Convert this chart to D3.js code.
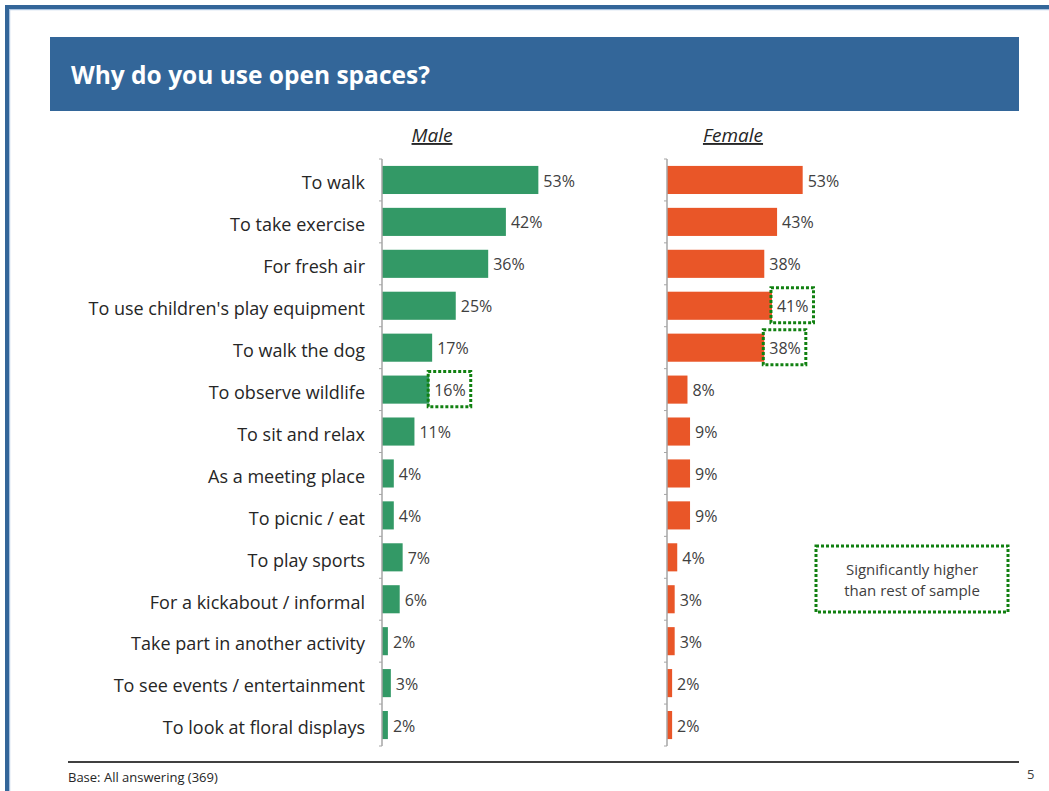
<!DOCTYPE html>
<html>
<head>
<meta charset="utf-8">
<script src="https://cdn.jsdelivr.net/npm/d3@7"></script>
<style>
  html, body { margin: 0; padding: 0; background: #fff; }
  svg { display: block; }
  text { font-family: "Open Sans", "Liberation Sans", sans-serif; }
</style>
</head>
<body>
<svg id="chart" width="1049" height="791"></svg>
<script>
// Reasons for using open spaces, share of respondents (%)
const categories = [
  "To walk", "To take exercise", "For fresh air", "To use children's play equipment",
  "To walk the dog", "To observe wildlife", "To sit and relax", "As a meeting place",
  "To picnic / eat", "To play sports", "For a kickabout / informal",
  "Take part in another activity", "To see events / entertainment", "To look at floral displays"
];
const maleValues   = [53, 42, 36, 25, 17, 16, 11, 4, 4, 7, 6, 2, 3, 2];
const femaleValues = [53, 43, 38, 41, 38, 8, 9, 9, 9, 4, 3, 3, 2, 2];
// Results flagged as significantly higher than the rest of the sample
const maleSignificant   = ["To observe wildlife"];
const femaleSignificant = ["To use children's play equipment", "To walk the dog"];
const panelTitles = ["Male", "Female"];
const titleText = "Why do you use open spaces?";
const baseNote = "Base: All answering (369)";
const pageNumber = "5";
const legendLines = ["Significantly higher", "than rest of sample"];

const svg = d3.select("#chart");
const W = 1049, H = 791;

// Slide frame
svg.append("rect").attr("x", 5).attr("y", 5).attr("width", W).attr("height", 4).attr("fill", "#336699");
svg.append("rect").attr("x", 5).attr("y", 5).attr("width", 4).attr("height", H).attr("fill", "#336699");
svg.append("rect").attr("x", 9).attr("y", 9).attr("width", W).attr("height", 1.2).attr("fill", "#a9c3e0");
svg.append("rect").attr("x", 9).attr("y", 9).attr("width", 1.2).attr("height", H).attr("fill", "#a9c3e0");

// Title banner
svg.append("rect").attr("x", 50).attr("y", 37).attr("width", 969).attr("height", 74).attr("fill", "#336699");
svg.append("text").attr("x", 71).attr("y", 84).attr("fill", "#fff")
  .attr("font-size", 24.5).attr("font-weight", "bold").text(titleText);

// Shared row layout
const y = d3.scaleBand().domain(categories).range([159, 746]).paddingInner(0.33).paddingOuter(0.165);

const panels = [
  { title: panelTitles[0], values: maleValues, sig: maleSignificant, x0: 382, pxPer: 2.95, color: "#339966", titleX: 432 },
  { title: panelTitles[1], values: femaleValues, sig: femaleSignificant, x0: 667, pxPer: 2.56, color: "#e95628", titleX: 733 }
];

panels.forEach(p => {
  const x = d3.scaleLinear().domain([0, 100]).range([p.x0, p.x0 + p.pxPer * 100]);
  const g = svg.append("g");

  // Panel heading
  g.append("text").attr("x", p.titleX).attr("y", 142).attr("text-anchor", "middle")
    .attr("font-size", 19).attr("font-style", "italic").attr("fill", "#262626")
    .attr("text-decoration", "underline").text(p.title);

  // Bars
  g.selectAll("rect.bar").data(p.values).join("rect").attr("class", "bar")
    .attr("x", x(0)).attr("y", (d, i) => y(categories[i]))
    .attr("width", d => x(d) - x(0)).attr("height", y.bandwidth())
    .attr("fill", p.color);

  // Value labels
  const labels = g.selectAll("text.val").data(p.values).join("text").attr("class", "val")
    .attr("x", d => x(d) + 5).attr("y", (d, i) => y(categories[i]) + y.bandwidth() / 2 + 1)
    .attr("dy", "0.35em").attr("font-size", 16).attr("fill", "#404040")
    .text(d => d + "%");

  // Significance boxes around flagged labels
  labels.each(function(d, i) {
    if (!p.sig.includes(categories[i])) return;
    const bb = this.getBBox();
    g.append("rect").attr("x", x(d) - 1).attr("y", y(categories[i]) - 4)
      .attr("width", bb.width + 11).attr("height", y.bandwidth() + 7)
      .attr("fill", "none").attr("stroke", "#108010").attr("stroke-width", 3)
      .attr("stroke-dasharray", "3,2");
  });

  // Category axis with minor ticks between rows
  const axis = g.append("g");
  const step = y.step();
  axis.append("line").attr("x1", p.x0).attr("x2", p.x0)
    .attr("y1", y.range()[0]).attr("y2", y.range()[1]).attr("stroke", "#a6a6a6").attr("stroke-width", 1.5);
  const tickYs = d3.range(categories.length + 1).map(k => y.range()[0] + k * step);
  axis.selectAll("line.tick").data(tickYs).join("line").attr("class", "tick")
    .attr("x1", p.x0 - 3).attr("x2", p.x0).attr("y1", d => d).attr("y2", d => d)
    .attr("stroke", "#a6a6a6").attr("stroke-width", 1);
});

// Category labels
svg.append("g").selectAll("text").data(categories).join("text")
  .attr("x", 365).attr("y", d => y(d) + y.bandwidth() / 2 + 3).attr("dy", "0.35em")
  .attr("text-anchor", "end").attr("font-size", 18).attr("fill", "#262626").text(d => d);

// Legend
svg.append("rect").attr("x", 816).attr("y", 546).attr("width", 192).attr("height", 66)
  .attr("fill", "none").attr("stroke", "#108010").attr("stroke-width", 3).attr("stroke-dasharray", "3,2");
legendLines.forEach((s, i) => {
  svg.append("text").attr("x", 912).attr("y", 575 + i * 21).attr("text-anchor", "middle")
    .attr("font-size", 15).attr("fill", "#404040").text(s);
});

// Footer
svg.append("line").attr("x1", 68).attr("x2", 1019).attr("y1", 762).attr("y2", 762)
  .attr("stroke", "#404040").attr("stroke-width", 2);
svg.append("text").attr("x", 68).attr("y", 782).attr("font-size", 13).attr("fill", "#262626").text(baseNote);
svg.append("text").attr("x", 1027).attr("y", 779).attr("font-size", 13).attr("fill", "#404040").text(pageNumber);
</script>
</body>
</html>
